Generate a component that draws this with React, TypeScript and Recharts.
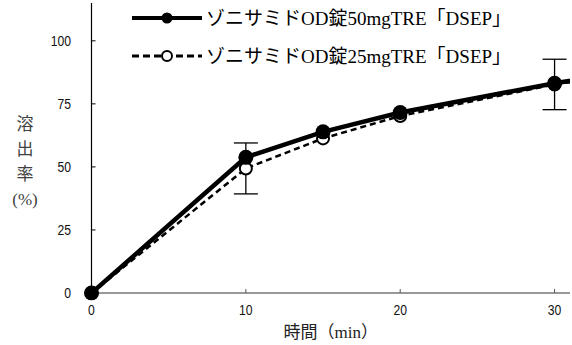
import React from "react";
import { LineChart, Line, XAxis, YAxis, ErrorBar, Legend, Label } from "recharts";

// dissolution time (min) and % dissolved
const times = [0, 10, 15, 20, 30, 45];
const tre50 = [0, 53.8, 63.9, 71.6, 83.2, 97.0];
const tre25 = [0, 49.4, 61.3, 70.2, 82.7, 96.0];
const tre25Sd = [null, 10.1, null, null, 10.0, null];

const xTicks = [0, 10, 20, 30];
const yTicks = [0, 25, 50, 75, 100];
const seriesNames = ["ゾニサミドOD錠50mgTRE「DSEP」", "ゾニサミドOD錠25mgTRE「DSEP」"];
const yTitle = ["溶", "出", "率", "(%)"];
const xTitle = "時間（min）";

const data = times.map((t, i) => ({ t, a: tre50[i], b: tre25[i], bErr: tre25Sd[i] }));

const jpFont = "'Liberation Serif', 'Noto Sans CJK JP', serif";
const tickFont = "'Liberation Sans', sans-serif";

// narrow-looking tick labels (Arial Narrow style)
const NarrowTick = (props: any) => {
  const { x, y, payload, textAnchor, orientation } = props;
  const dy = orientation === "bottom" ? 10 : 5;
  return (
    <g transform={`translate(${x},${y})`}>
      <text
        transform="scale(0.84,1)"
        textAnchor={textAnchor}
        dy={dy}
        fontSize={14.5}
        fontFamily={tickFont}
        fill="#111"
      >
        {payload.value}
      </text>
    </g>
  );
};

const LegendContent = () => (
  <svg width={572} height={75} style={{ display: "block" }}>
    <line x1={132} x2={202} y1={18} y2={18} stroke="#000" strokeWidth={4} />
    <circle cx={167} cy={18} r={5.5} fill="#000" />
    <text x={206} y={18} dominantBaseline="central" fontSize={19} fontFamily={jpFont} fill="#000">
      {seriesNames[0]}
    </text>
    <line x1={132} x2={202} y1={56} y2={56} stroke="#000" strokeWidth={2.8} strokeDasharray="7 4" />
    <circle cx={167} cy={56} r={5} fill="#fff" stroke="#000" strokeWidth={2} />
    <text x={206} y={56} dominantBaseline="central" fontSize={19} fontFamily={jpFont} fill="#000">
      {seriesNames[1]}
    </text>
  </svg>
);

const YTitle = () => (
  <text x={25} y={130} textAnchor="middle" fontSize={17} fontFamily={jpFont} fill="#404040">
    {yTitle.map((s, i) => (
      <tspan key={i} x={25} dy={i === 0 ? 0 : 25}>
        {s}
      </tspan>
    ))}
  </text>
);

export default function App() {
  return (
    <div style={{ position: "absolute", left: 0, top: 0 }}>
      <LineChart width={572} height={345} data={data} margin={{ top: 3, right: 2, left: 0, bottom: 0 }}>
        <XAxis
          dataKey="t"
          type="number"
          domain={[0, 31]}
          allowDataOverflow
          ticks={xTicks}
          height={52}
          tickSize={-4}
          tickMargin={16}
          axisLine={{ stroke: "#777", strokeWidth: 1.5 }}
          tickLine={{ stroke: "#555" }}
          tick={<NarrowTick />}
        >
          <Label value={xTitle} position="insideBottom" offset={7} fontSize={17} fontFamily={jpFont} fill="#222" />
        </XAxis>
        <YAxis
          type="number"
          domain={[0, 115]}
          allowDataOverflow
          ticks={yTicks}
          width={91.5}
          tickSize={-4}
          tickMargin={24.5}
          axisLine={{ stroke: "#000", strokeWidth: 1.2 }}
          tickLine={{ stroke: "#000" }}
          tick={<NarrowTick />}
          label={<YTitle />}
        />
        <Legend
          layout="vertical"
          align="center"
          verticalAlign="middle"
          content={<LegendContent />}
          wrapperStyle={{ top: 0, left: 0, width: 572, height: 75 }}
        />
        <Line
          dataKey="b"
          type="linear"
          stroke="#000"
          strokeWidth={2.5}
          strokeDasharray="6 4"
          dot={{ r: 6, fill: "#fff", stroke: "#000", strokeWidth: 2, strokeDasharray: "", clipDot: false }}
          activeDot={false}
          isAnimationActive={false}
        >
          <ErrorBar dataKey="bErr" direction="y" width={12} stroke="#000" strokeWidth={1.3} />
        </Line>
        <Line
          dataKey="a"
          type="linear"
          stroke="#000"
          strokeWidth={4.5}
          dot={{ r: 7.5, fill: "#000", stroke: "#000", strokeWidth: 0, clipDot: false }}
          activeDot={false}
          isAnimationActive={false}
        />
      </LineChart>
    </div>
  );
}
